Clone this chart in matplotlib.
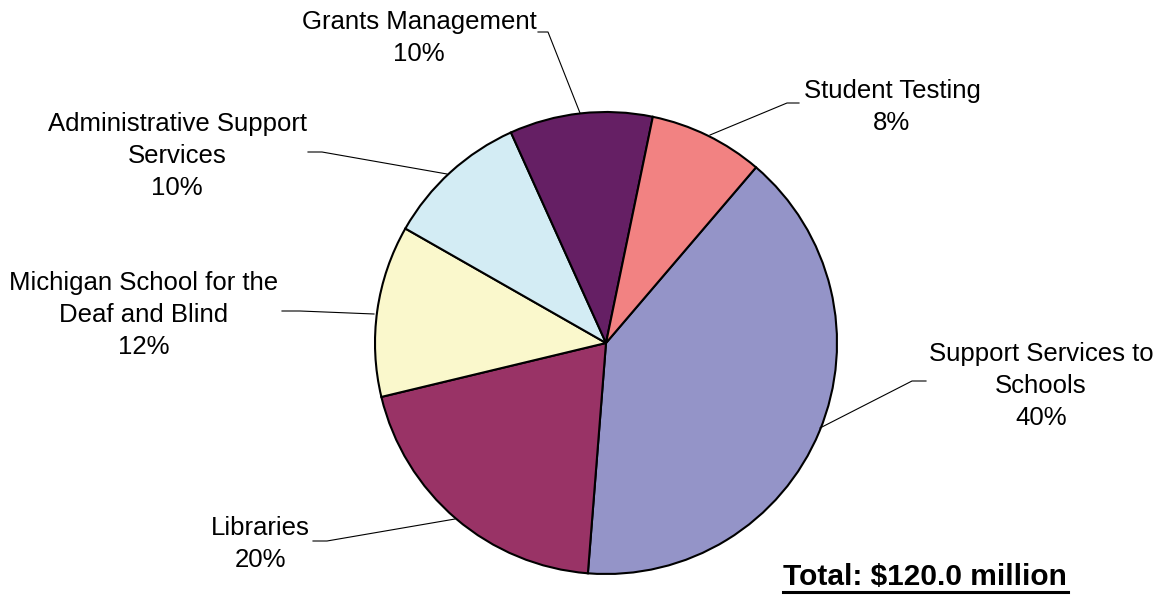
import matplotlib
matplotlib.use("Agg")
import matplotlib.pyplot as plt

# budget share by area (percent of $120.0 million), clockwise from upper right
labels = ["Support Services to\nSchools", "Libraries", "Michigan School for the\nDeaf and Blind",
          "Administrative Support\nServices", "Grants Management", "Student Testing"]
shares = [40, 20, 12, 10, 10, 8]
colors = ["#9494C8", "#993366", "#FAF8CC", "#D3ECF4", "#651F64", "#F28282"]
total_text = "Total: $120.0 million"

W, H = 1156, 596
plt.rcParams.update({"font.family": ["Liberation Sans", "DejaVu Sans"]})
fig = plt.figure(figsize=(W / 100, H / 100), dpi=100, facecolor="white")
ax = fig.add_axes([0, 0, 1, 1])


def py(y):
    # pixel row -> data y
    return H - y


ax.pie(shares, colors=colors, startangle=49.5, counterclock=False,
       center=(606, py(343)), radius=231, frame=True,
       wedgeprops=dict(edgecolor="black", linewidth=1.5))
ax.set_xlim(0, W); ax.set_ylim(0, H)
ax.set_aspect("equal")
ax.axis("off")

# label text centres and leader lines (pixel coords)
text_pos = [(1041, 386), (260, 544), (144, 315), (177, 156), (419, 38), (892, 107)]
leaders = [
    [(820, 428), (912, 381), (926, 381)],
    [(455, 519), (327, 541), (313, 541)],
    [(374, 314), (300, 311), (282, 311)],
    [(447, 174), (322, 152), (308, 152)],
    [(580, 113), (548, 32), (538, 32)],
    [(710, 135), (787, 103), (799, 103)],
]

for lab, s, (tx, ty), pts in zip(labels, shares, text_pos, leaders):
    ax.plot([p[0] for p in pts], [py(p[1]) for p in pts], color="black", lw=0.8)
    ax.text(tx, py(ty), f"{lab}\n{s}%", ha="center", va="center",
            fontsize=18.5, linespacing=1.42, color="black")

ax.text(925, py(577), total_text, ha="center", va="center",
        fontsize=21.5, fontweight="bold", color="black")
ax.plot([783, 1068], [py(592), py(592)], color="black", lw=2.2)

fig.savefig("out.png", dpi=100, facecolor="white")
